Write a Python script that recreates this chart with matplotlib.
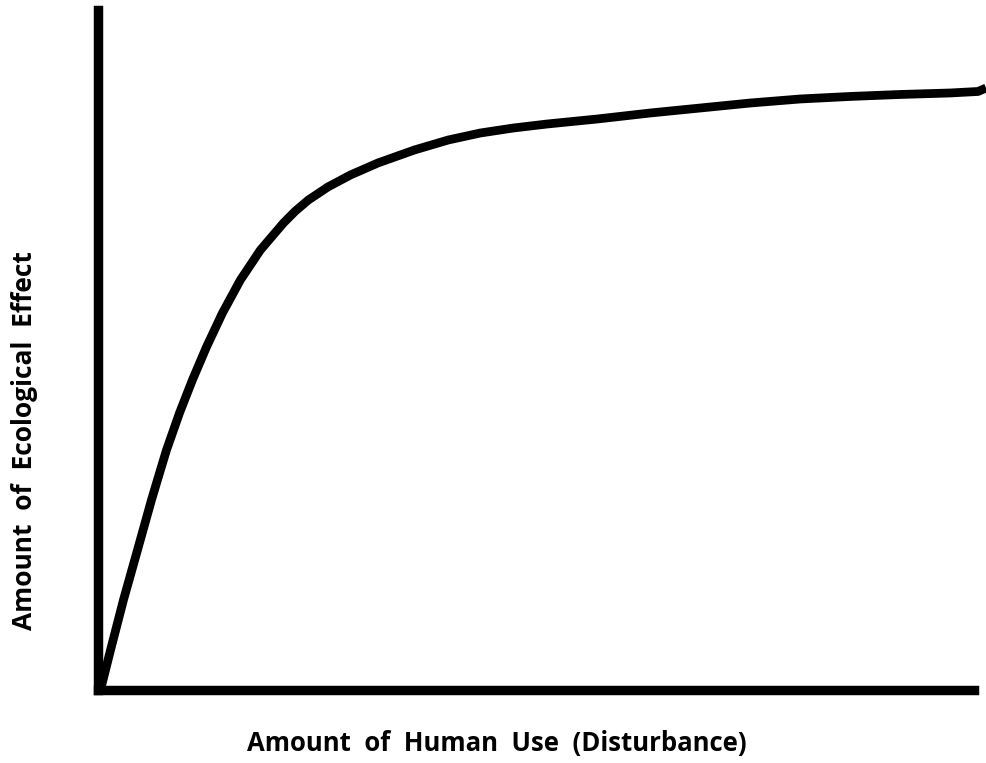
import matplotlib
matplotlib.use("Agg")
import matplotlib.pyplot as plt

# Curve data (x: human use 0-100, y: ecological effect 0-100)
use = [0.34, 1.37, 2.84, 4.44, 6.03, 6.71, 7.74, 9.22, 10.69, 12.29, 14.11,
       16.15, 18.43, 21.05, 22.41, 23.89, 26.11, 28.67, 31.80, 35.95, 39.82,
       43.46, 47.21, 51.08, 56.77, 62.80, 68.49, 74.17, 79.86, 85.55, 91.24,
       96.93, 100.11, 101.02]
effect = [0.59, 5.86, 13.18, 20.50, 27.82, 30.75, 35.14, 40.56, 45.39, 50.22,
          55.20, 60.03, 64.42, 68.37, 70.13, 71.74, 73.65, 75.40, 77.16, 79.06,
          80.53, 81.55, 82.28, 82.87, 83.60, 84.48, 85.21, 85.94, 86.53, 86.90,
          87.19, 87.41, 87.63, 88.14]

xlabel = "Amount  of  Human  Use  (Disturbance)"
ylabel = "Amount  of  Ecological  Effect"

W, H = 987, 763
fig = plt.figure(figsize=(W / 100, H / 100), dpi=100)
left, right, top, bottom = 98.5, 973.6, 10.4, 690
ax = fig.add_axes([left / W, 1 - bottom / H, (right - left) / W, (bottom - top) / H])
ax.set_xlim(0, 99.6)
ax.set_ylim(0, 99.5)

ax.plot(use, effect, color="black", lw=6.3, solid_capstyle="butt",
        solid_joinstyle="round", clip_on=False)

for s in ["top", "right"]:
    ax.spines[s].set_visible(False)
for s in ["left", "bottom"]:
    ax.spines[s].set_linewidth(6.8)
    ax.spines[s].set_color("black")
    ax.spines[s].set_capstyle("projecting")
ax.set_xticks([])
ax.set_yticks([])

fig.text(497 / W, 1 - 744 / H, xlabel, ha="center", va="center",
         fontsize=18.5, fontweight="bold", family="Open Sans")
fig.text(25 / W, 1 - 441 / H, ylabel, ha="center", va="center", rotation=90,
         fontsize=19, fontweight="bold", family="Open Sans")

fig.savefig("out.png", dpi=100, facecolor="white")
